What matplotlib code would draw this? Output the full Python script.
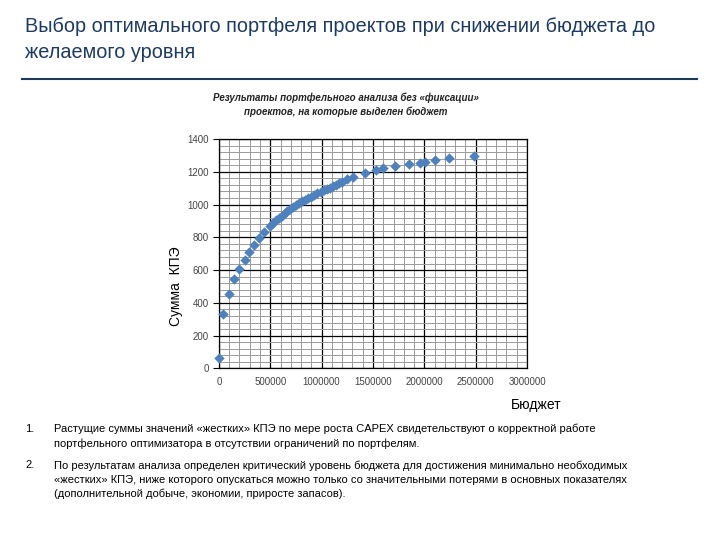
import matplotlib.pyplot as plt
from matplotlib.ticker import MultipleLocator, FormatStrFormatter
from matplotlib.lines import Line2D

plt.rcParams['font.family'] = ['Liberation Sans Narrow', 'Liberation Sans', 'DejaVu Sans']

### data
budget = [0, 42000, 97000, 149000, 198000, 250000, 289000, 344000, 393000, 441000,
          494000, 530000, 560000, 590000, 610000, 640000, 660000, 690000, 720000,
          750000, 780000, 810000, 840000, 870000, 900000, 930000, 960000, 990000,
          1020000, 1050000, 1080000, 1110000, 1140000, 1170000, 1196000, 1250000,
          1309000, 1423000, 1530000, 1595000, 1715000, 1855000, 1959000, 2008000,
          2105000, 2245000, 2479000]
kpe_sum = [66, 334, 456, 548, 607, 663, 712, 751, 794, 834,
           867, 888, 905, 920, 932, 948, 958, 970, 985,
           997, 1008, 1020, 1030, 1040, 1048, 1058, 1068, 1078,
           1088, 1095, 1103, 1112, 1122, 1130, 1139, 1155,
           1166, 1190, 1210, 1221, 1235, 1247, 1255, 1261,
           1271, 1282, 1298]

title = "Выбор оптимального портфеля проектов при снижении бюджета до\nжелаемого уровня"
subtitle = "Результаты портфельного анализа без «фиксации»\nпроектов, на которые выделен бюджет"
notes = [
    ("1.", "Растущие суммы значений «жестких» КПЭ по мере роста CAPEX свидетельствуют о корректной работе\n"
           "портфельного оптимизатора в отсутствии ограничений по портфелям."),
    ("2.", "По результатам анализа определен критический уровень бюджета для достижения минимально необходимых\n"
           "«жестких» КПЭ, ниже которого опускаться можно только со значительными потерями в основных показателях\n"
           "(дополнительной добыче, экономии, приросте запасов)."),
]

### figure
fig = plt.figure(figsize=(7.2, 5.4), dpi=100)
navy = '#1F3A5F'

fig.text(0.035, 0.968, title, fontsize=14.3, color=navy, va='top', ha='left', linespacing=1.45)
fig.add_artist(Line2D([0.031, 0.968], [0.854, 0.854], color=navy, lw=1.5))
fig.text(0.48, 0.828, subtitle, fontsize=7, fontweight='bold', style='italic',
         ha='center', va='top', color='#222222', linespacing=1.4)

ax = fig.add_axes([0.304, 0.3176, 0.428, 0.425])
ax.scatter(budget, kpe_sum, marker='D', s=28, color='#4F81BD', zorder=3,
           linewidths=0, clip_on=False)
ax.set_xlim(0, 3000000)
ax.set_ylim(0, 1400)
ax.xaxis.set_major_locator(MultipleLocator(500000))
ax.xaxis.set_minor_locator(MultipleLocator(100000))
ax.xaxis.set_major_formatter(FormatStrFormatter('%d'))
ax.yaxis.set_major_locator(MultipleLocator(200))
ax.yaxis.set_minor_locator(MultipleLocator(40))
ax.grid(which='major', color='black', lw=0.9)
ax.grid(which='minor', color='#9a9a9a', lw=0.7)
ax.set_axisbelow(True)
ax.tick_params(which='both', length=0, labelsize=7, colors='#444444', pad=6)
ax.tick_params(axis='y', which='major', length=4, color='black', pad=3)
for sp in ax.spines.values():
    sp.set_color('black')
    sp.set_linewidth(0.9)

fig.text(0.245, 0.47, "Сумма  КПЭ", rotation=90, fontsize=10, ha='center', va='center')
fig.text(0.745, 0.25, "Бюджет", fontsize=10, ha='center', va='center')

### notes
ypos = [0.215, 0.148]
for (num, txt), y in zip(notes, ypos):
    fig.text(0.035, y, num, fontsize=8, va='top')
    fig.text(0.075, y, txt, fontsize=8, va='top', linespacing=1.5)

plt.savefig("out.png", dpi=100)
